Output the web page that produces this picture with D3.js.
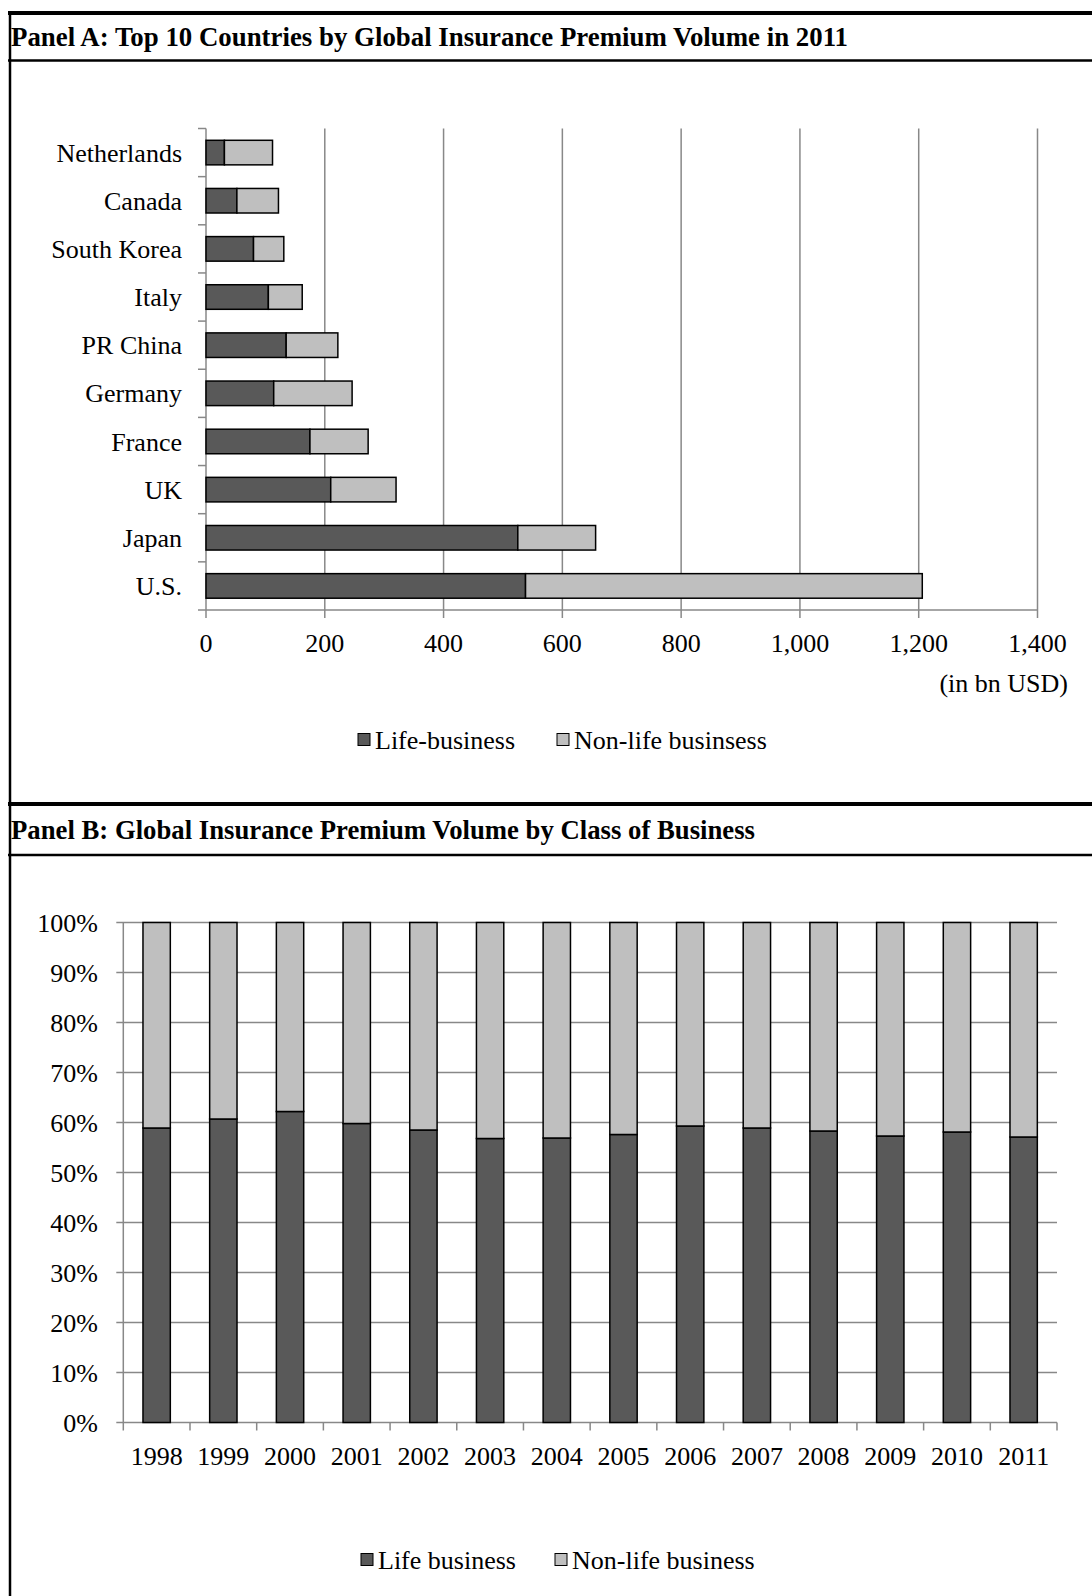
<!DOCTYPE html>
<html>
<head>
<meta charset="utf-8">
<script src="https://cdn.jsdelivr.net/npm/d3@7/dist/d3.min.js"></script>
<style>
  html, body { margin: 0; padding: 0; background: #ffffff; }
  svg { display: block; }
  text { font-family: "Liberation Serif", "Times New Roman", serif; fill: #000; }
</style>
</head>
<body>
<svg id="chart" width="1092" height="1596"></svg>
<script>
// ---- Panel A: top 10 countries, 2011 (bn USD) ----
const countries = ["Netherlands", "Canada", "South Korea", "Italy", "PR China",
                   "Germany", "France", "UK", "Japan", "U.S."];
const lifeA    = [31, 52, 80, 105, 135, 114, 175, 210, 525, 538];
const nonLifeA = [81, 70, 51, 57, 87, 132, 98, 110, 131, 668];
const xTicksA  = [0, 200, 400, 600, 800, 1000, 1200, 1400];
const seriesA  = ["Life-business", "Non-life businsess"];

// ---- Panel B: global premium split by class of business (%) ----
const years     = ["1998", "1999", "2000", "2001", "2002", "2003", "2004",
                   "2005", "2006", "2007", "2008", "2009", "2010", "2011"];
const lifeB     = [58.9, 60.7, 62.2, 59.8, 58.5, 56.8, 56.9, 57.6, 59.3, 58.9, 58.3, 57.3, 58.1, 57.1];
const nonLifeB  = [41.1, 39.3, 37.8, 40.2, 41.5, 43.2, 43.1, 42.4, 40.7, 41.1, 41.7, 42.7, 41.9, 42.9];
const yTicksB   = [0, 10, 20, 30, 40, 50, 60, 70, 80, 90, 100];
const seriesB   = ["Life business", "Non-life business"];

const colors = ["#595959", "#bfbfbf"];
const gridColor = "#888888";
const FS = 26;

const svg = d3.select("#chart");

// ---- frame: thick rules, title underlines, left border ----
const frame = svg.append("g");
frame.append("line").attr("x1", 8).attr("x2", 1092).attr("y1", 13).attr("y2", 13)
  .attr("stroke", "#000").attr("stroke-width", 4);
frame.append("line").attr("x1", 8).attr("x2", 1092).attr("y1", 60.5).attr("y2", 60.5)
  .attr("stroke", "#000").attr("stroke-width", 2.5);
frame.append("line").attr("x1", 8).attr("x2", 1092).attr("y1", 804).attr("y2", 804)
  .attr("stroke", "#000").attr("stroke-width", 4);
frame.append("line").attr("x1", 8).attr("x2", 1092).attr("y1", 855).attr("y2", 855)
  .attr("stroke", "#000").attr("stroke-width", 2.5);
frame.append("line").attr("x1", 10).attr("x2", 10).attr("y1", 11).attr("y2", 1596)
  .attr("stroke", "#000").attr("stroke-width", 2.5);

frame.append("text").attr("x", 11).attr("y", 46)
  .attr("font-size", 26.5).attr("font-weight", "bold")
  .attr("textLength", 837).attr("lengthAdjust", "spacingAndGlyphs")
  .text("Panel A: Top 10 Countries by Global Insurance Premium Volume in 2011");
frame.append("text").attr("x", 11).attr("y", 839)
  .attr("font-size", 26.5).attr("font-weight", "bold")
  .attr("textLength", 744).attr("lengthAdjust", "spacingAndGlyphs")
  .text("Panel B: Global Insurance Premium Volume by Class of Business");

// legend helper
function legend(g, items, xs, y) {
  items.forEach((name, i) => {
    g.append("rect").attr("x", xs[i]).attr("y", y - 6.5).attr("width", 12).attr("height", 12)
      .attr("fill", colors[i]).attr("stroke", "#000").attr("stroke-width", 1);
    g.append("text").attr("x", xs[i] + 17).attr("y", y).attr("dy", "0.35em")
      .attr("font-size", FS).text(name);
  });
}

// ================= Panel A =================
{
  const g = svg.append("g");
  const x = d3.scaleLinear().domain([0, 1400]).range([206, 1037.5]);
  const y = d3.scaleBand().domain(countries).range([128.5, 610])
    .paddingInner(0.49).paddingOuter(0.245);
  const step = y.step();
  const top = 128.5, bottom = 610;

  // vertical gridlines (extend below the axis as tick marks)
  g.selectAll(".gx").data(xTicksA.slice(1)).join("line")
    .attr("x1", d => x(d)).attr("x2", d => x(d))
    .attr("y1", top).attr("y2", bottom + 8)
    .attr("stroke", gridColor).attr("stroke-width", 1.5);
  // zero tick below axis
  g.append("line").attr("x1", x(0)).attr("x2", x(0)).attr("y1", bottom).attr("y2", bottom + 8)
    .attr("stroke", gridColor).attr("stroke-width", 1.5);
  // category axis
  g.append("line").attr("x1", x(0)).attr("x2", x(0)).attr("y1", top).attr("y2", bottom)
    .attr("stroke", gridColor).attr("stroke-width", 1.5);
  g.selectAll(".ty").data(d3.range(countries.length + 1)).join("line")
    .attr("x1", x(0) - 8).attr("x2", x(0))
    .attr("y1", i => top + i * step).attr("y2", i => top + i * step)
    .attr("stroke", gridColor).attr("stroke-width", 1.5);
  // value axis baseline
  g.append("line").attr("x1", x(0)).attr("x2", x(1400)).attr("y1", bottom).attr("y2", bottom)
    .attr("stroke", gridColor).attr("stroke-width", 1.5);

  // stacked bars
  const rows = countries.map((c, i) => ({ c, life: lifeA[i], non: nonLifeA[i] }));
  const stacked = d3.stack().keys(["life", "non"])(rows);
  stacked.forEach((layer, k) => {
    g.selectAll(".bar" + k).data(layer).join("rect")
      .attr("x", d => x(d[0])).attr("width", d => x(d[1]) - x(d[0]))
      .attr("y", d => y(d.data.c)).attr("height", y.bandwidth())
      .attr("fill", colors[k]).attr("stroke", "#000").attr("stroke-width", 1.5);
  });

  // category labels
  g.selectAll(".cl").data(countries).join("text")
    .attr("x", 182).attr("y", d => y(d) + y.bandwidth() / 2).attr("dy", "0.35em")
    .attr("text-anchor", "end").attr("font-size", FS).text(d => d);

  // value tick labels
  const fmt = d3.format(",");
  g.selectAll(".xl").data(xTicksA).join("text")
    .attr("x", d => x(d)).attr("y", 643).attr("dy", "0.35em")
    .attr("text-anchor", "middle").attr("font-size", FS).text(d => fmt(d));

  g.append("text").attr("x", 1068).attr("y", 683).attr("dy", "0.35em")
    .attr("text-anchor", "end").attr("font-size", FS).text("(in bn USD)");

  legend(g, seriesA, [358, 557], 740);
}

// ================= Panel B =================
{
  const g = svg.append("g");
  const y = d3.scaleLinear().domain([0, 100]).range([1422.5, 922.5]);
  const x = d3.scaleBand().domain(years).range([123.3, 1057])
    .paddingInner(0.59).paddingOuter(0.295);
  const step = x.step();
  const left = 123.3, right = 1057;

  // horizontal gridlines with outward ticks
  g.selectAll(".gy").data(yTicksB).join("line")
    .attr("x1", left - 7).attr("x2", right)
    .attr("y1", d => y(d)).attr("y2", d => y(d))
    .attr("stroke", gridColor).attr("stroke-width", 1.5);
  g.append("line").attr("x1", left).attr("x2", left).attr("y1", y(100)).attr("y2", y(0))
    .attr("stroke", gridColor).attr("stroke-width", 1.5);
  g.selectAll(".tx").data(d3.range(years.length + 1)).join("line")
    .attr("x1", i => left + i * step).attr("x2", i => left + i * step)
    .attr("y1", y(0)).attr("y2", y(0) + 8)
    .attr("stroke", gridColor).attr("stroke-width", 1.5);

  const rows = years.map((yr, i) => ({ yr, life: lifeB[i], non: nonLifeB[i] }));
  const stacked = d3.stack().keys(["life", "non"])(rows);
  stacked.forEach((layer, k) => {
    g.selectAll(".bar" + k).data(layer).join("rect")
      .attr("x", d => x(d.data.yr)).attr("width", x.bandwidth())
      .attr("y", d => y(d[1])).attr("height", d => y(d[0]) - y(d[1]))
      .attr("fill", colors[k]).attr("stroke", "#000").attr("stroke-width", 1.5);
  });

  g.selectAll(".yl").data(yTicksB).join("text")
    .attr("x", 98).attr("y", d => y(d)).attr("dy", "0.35em")
    .attr("text-anchor", "end").attr("font-size", FS).text(d => d + "%");

  g.selectAll(".xl").data(years).join("text")
    .attr("x", d => x(d) + x.bandwidth() / 2).attr("y", 1456).attr("dy", "0.35em")
    .attr("text-anchor", "middle").attr("font-size", FS).text(d => d);

  legend(g, seriesB, [361, 555], 1560);
}
</script>
</body>
</html>
